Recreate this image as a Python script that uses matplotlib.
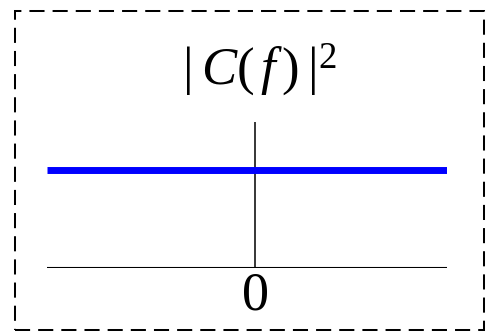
import matplotlib.pyplot as plt
from matplotlib.patches import Rectangle

plt.rcParams["mathtext.fontset"] = "custom"
plt.rcParams["mathtext.rm"] = "Liberation Serif"
plt.rcParams["mathtext.it"] = "Liberation Serif:italic"
plt.rcParams["font.family"] = "Liberation Serif"

# flat spectrum |C(f)|^2 over the frequency band
freq = [-1.04, 0.96]
power = [0.67, 0.67]
tick_pos = [0]
tick_labels = ["0"]

W, H = 487, 333
fig = plt.figure(figsize=(W / 100, H / 100), dpi=100)

# dashed frame around the whole panel
fig.patches.append(
    Rectangle((15 / W, 3 / H), 469 / W, 319 / H, transform=fig.transFigure,
              fill=False, edgecolor="black", lw=1.45, linestyle=(0, (7.5, 4)))
)

ax = fig.add_axes([47 / W, 65 / H, 400 / W, 146 / H])
ax.set_xlim(freq[0], freq[1])
ax.set_ylim(0, 1)
ax.axis("off")

ax.axhline(0, color="black", lw=1.5)
ax.axvline(0, color="black", lw=1.1)
ax.plot(freq, power, color="#0000ff", lw=5, solid_capstyle="butt")

for x, lab in zip(tick_pos, tick_labels):
    ax.text(x, -0.195, lab, ha="center", va="center", fontsize=39)

ax.text(0.02, 1.356, r"$|\:C(\,f\,)\:|^2$", ha="center", va="center", fontsize=38)

fig.savefig("out.png", dpi=100)
